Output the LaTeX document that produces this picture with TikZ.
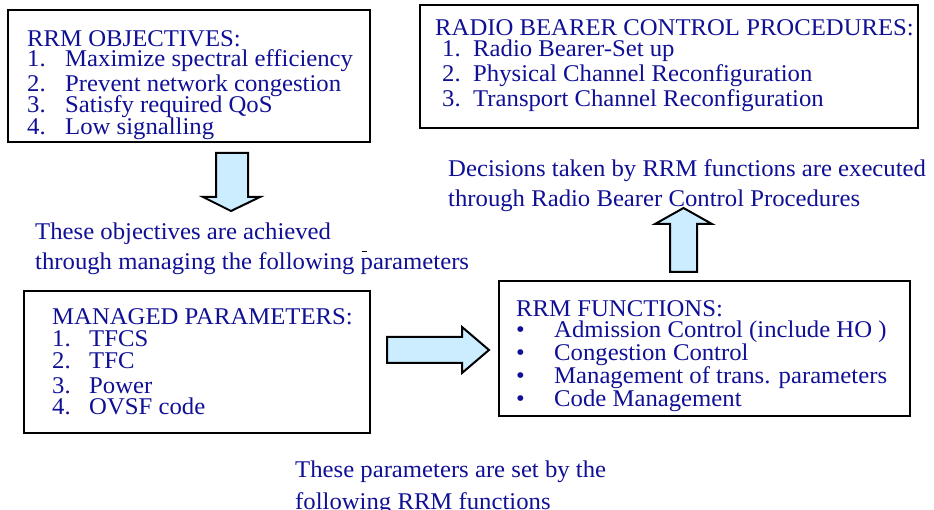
\documentclass[tikz,border=0pt]{standalone}
\usepackage{fontspec}
\setmainfont{Liberation Serif}[FakeStretch=1.03]
\definecolor{ink}{RGB}{16,16,150}
\definecolor{arrowfill}{RGB}{204,236,255}
\begin{document}
\begin{tikzpicture}[x=1pt,y=-1pt,
  panel/.style={draw=black,line width=2pt,anchor=north west,inner sep=0pt,outer sep=0pt},
  txt/.style={anchor=base west,inner sep=0pt,text=ink,text height=15pt,text depth=4pt,
    font=\fontsize{24}{26}\selectfont},
  blockarrow/.style={draw=black,line width=2pt,fill=arrowfill,line join=miter}]
\useasboundingbox (0,0) rectangle (934,510);
\fill[white] (0,0) rectangle (934,510);

% ---- panels ----
\node[panel,minimum width=362pt,minimum height=132pt] (obj) at (8,10) {};
\node[panel,minimum width=498pt,minimum height=123pt] (rbc) at (420,5) {};
\node[panel,minimum width=346pt,minimum height=142pt] (par) at (24,291) {};
\node[panel,minimum width=411pt,minimum height=135pt] (fun) at (499,281) {};

% ---- RRM objectives ----
\node[txt] (objh) at (27,47) {RRM OBJECTIVES:};
\node[txt] (objn1) at (27,67) {1.};  \node[txt] (objt1) at (65,67) {Maximize spectral efficiency};
\node[txt] (objn2) at (27,92) {2.};  \node[txt] (objt2) at (65,92) {Prevent network congestion};
\node[txt] (objn3) at (27,113) {3.}; \node[txt] (objt3) at (65,113) {Satisfy required QoS};
\node[txt] (objn4) at (27,135) {4.}; \node[txt] (objt4) at (65,135) {Low signalling};

% ---- radio bearer control procedures ----
\node[txt] (rbch) at (435,36) {RADIO BEARER CONTROL PROCEDURES:};
\node[txt] (rbcn1) at (442,57) {1.};  \node[txt] (rbct1) at (473,57) {Radio Bearer-Set up};
\node[txt] (rbcn2) at (442,82) {2.};  \node[txt] (rbct2) at (473,82) {Physical Channel Reconfiguration};
\node[txt] (rbcn3) at (442,107) {3.}; \node[txt] (rbct3) at (473,107) {Transport Channel Reconfiguration};

% ---- managed parameters ----
\node[txt] (parh) at (52,325) {MANAGED PARAMETERS:};
\node[txt] (parn1) at (52,347) {1.}; \node[txt] (part1) at (89,347) {TFCS};
\node[txt] (parn2) at (52,369) {2.}; \node[txt] (part2) at (89,369) {TFC};
\node[txt] (parn3) at (52,393) {3.}; \node[txt] (part3) at (89,393) {Power};
\node[txt] (parn4) at (52,414) {4.}; \node[txt] (part4) at (89,414) {OVSF code};

% ---- RRM functions ----
\node[txt] (funh) at (516,317) {RRM FUNCTIONS:};
\node[txt] (funb1) at (516,338) {•}; \node[txt] (funt1) at (554,338) {Admission Control (include HO )};
\node[txt] (funb2) at (516,361) {•}; \node[txt] (funt2) at (554,361) {Congestion Control};
\node[txt] (funb3) at (516,383) {•}; \node[txt] (funt3) at (554,383) {Management of trans. parameters};
\node[txt] (funb4) at (516,406) {•}; \node[txt] (funt4) at (554,406) {Code Management};

% ---- captions ----
\node[txt] (cap1a) at (35,240) {These objectives are achieved};
\node[txt] (cap1b) at (35,270) {through managing the following parameters};
\draw[line width=1pt] (362,252) -- (367,252);
\node[txt] (cap2a) at (448,177) {Decisions taken by RRM functions are executed};
\node[txt] (cap2b) at (448,207) {through Radio Bearer Control Procedures};
\node[txt] (cap3a) at (295,477) {These parameters are set by the};
\node[txt] (cap3b) at (295,509) {following RRM functions};

% ---- block arrows ----
\draw[blockarrow] (216,153) -- (248,153) -- (248,197) -- (260,197) -- (231,211)
  -- (203,197) -- (216,197) -- cycle;
\draw[blockarrow] (387,337) -- (462,337) -- (462,327) -- (489,350) -- (462,373)
  -- (462,363) -- (387,363) -- cycle;
\draw[blockarrow] (670,272) -- (670,224) -- (655,224) -- (683.5,208) -- (712,224)
  -- (697,224) -- (697,272) -- cycle;
\end{tikzpicture}
\end{document}
